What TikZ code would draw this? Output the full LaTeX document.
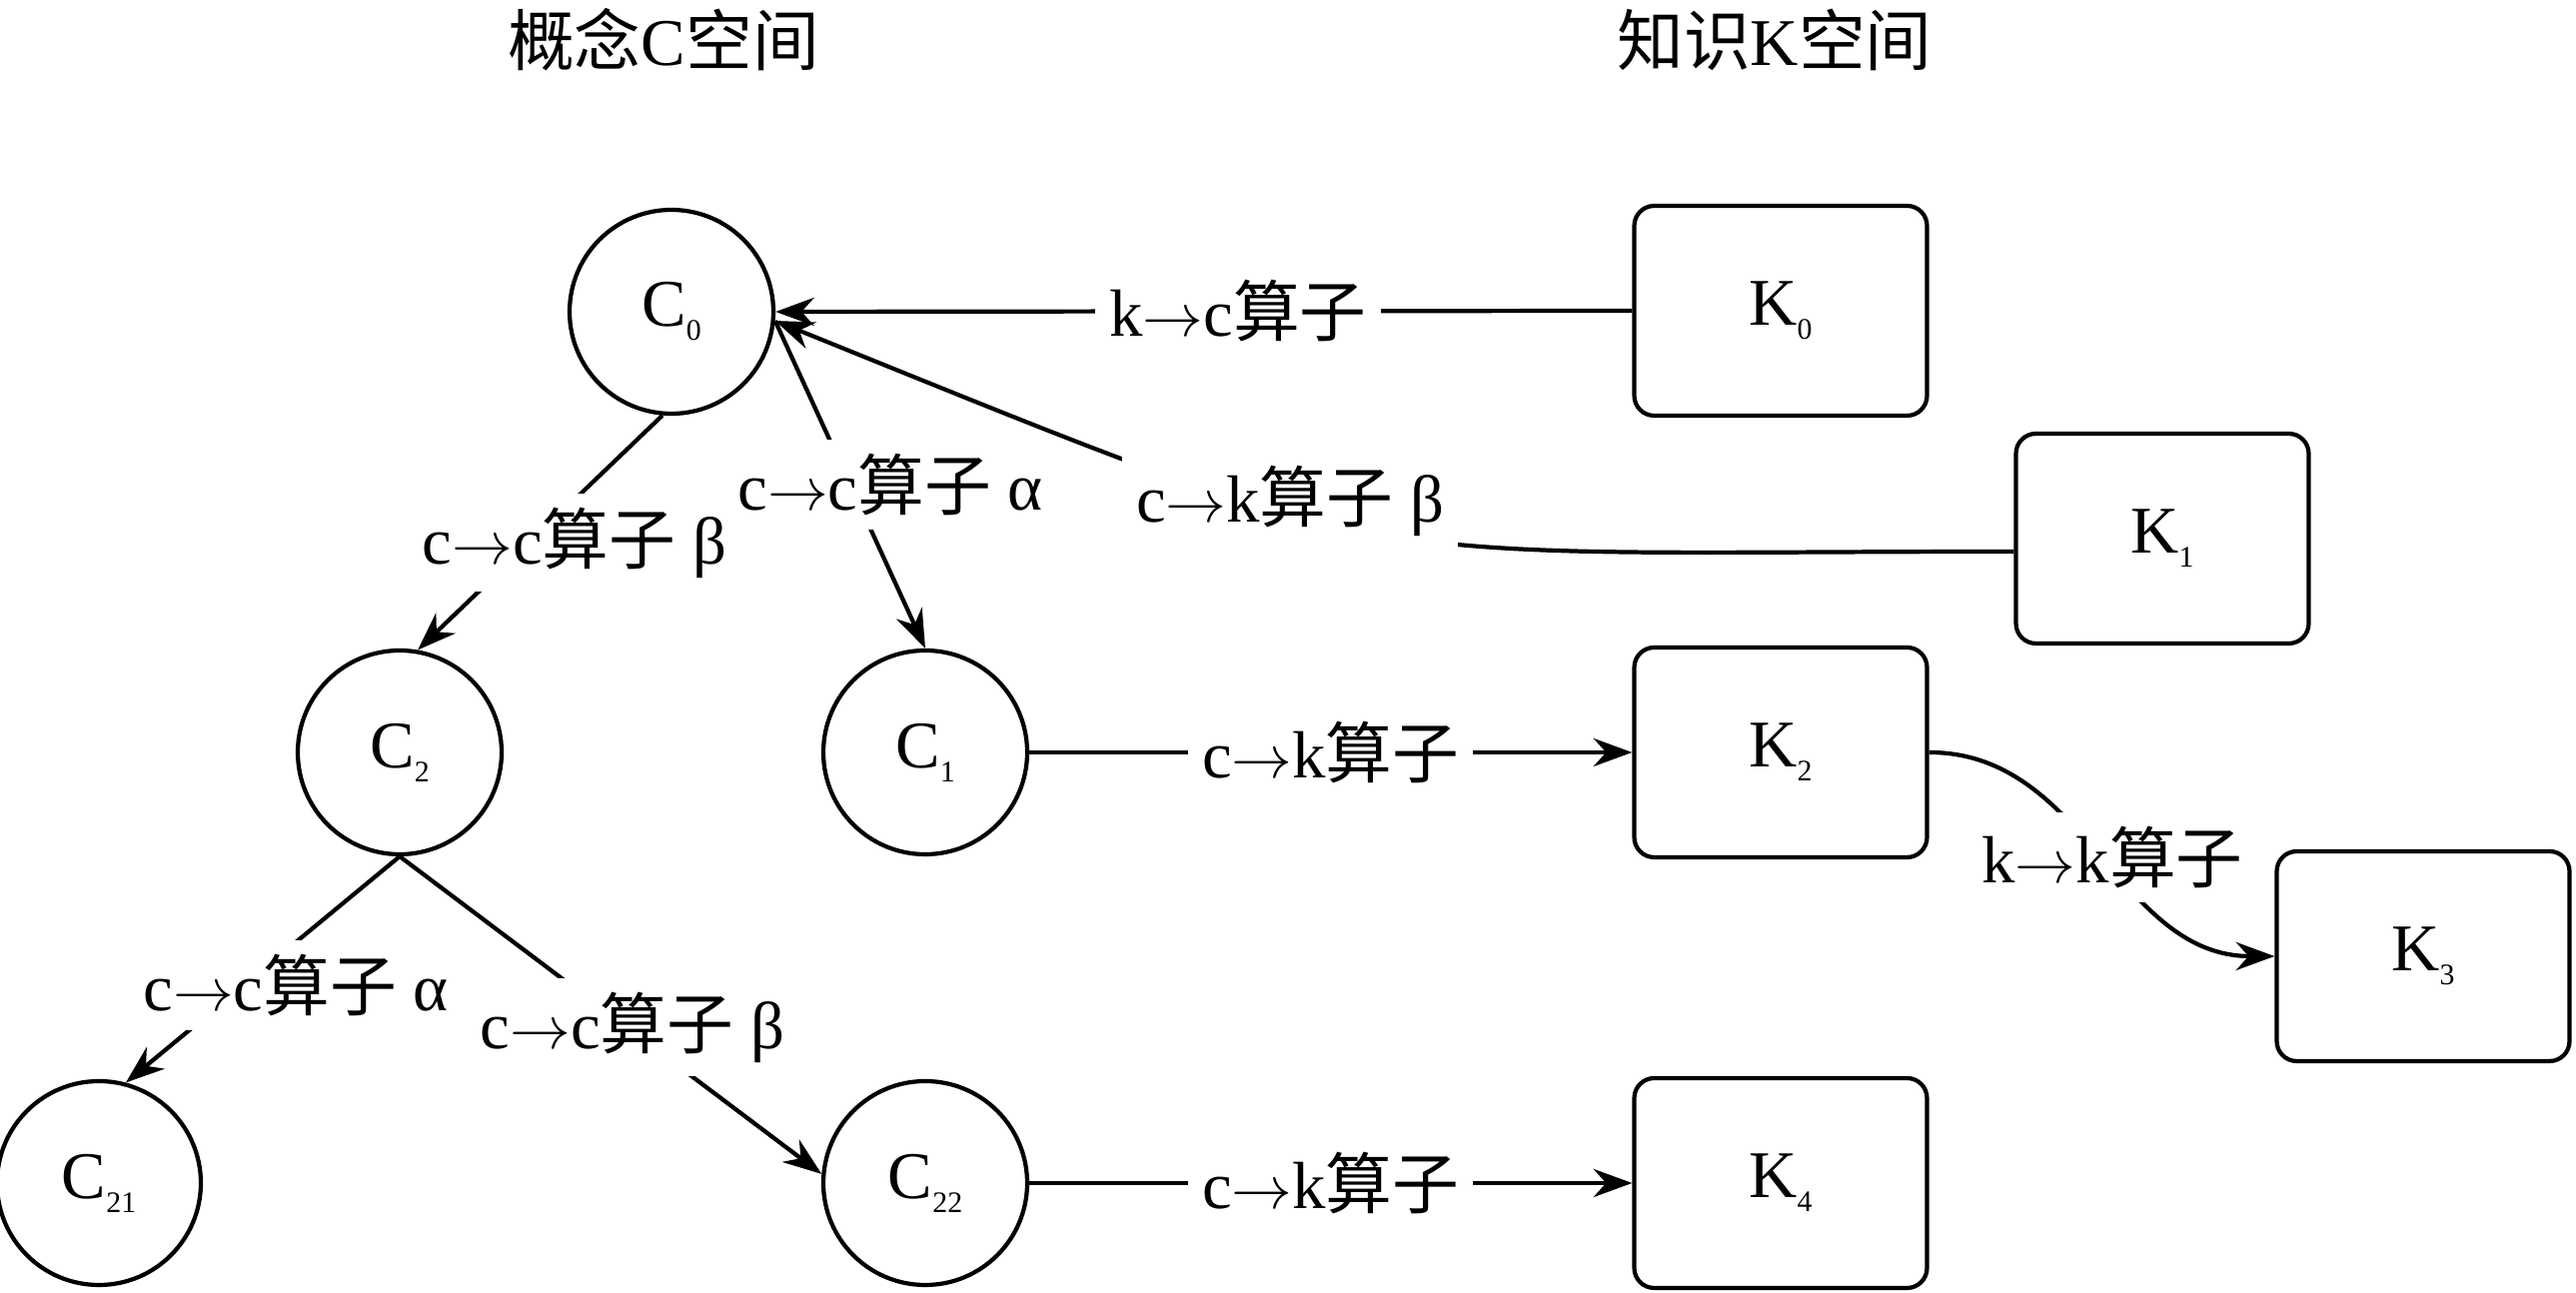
\documentclass[tikz,border=0pt]{standalone}
\usepackage{fontspec}
\setmainfont{Liberation Serif}
\newfontfamily\cjk{Noto Sans CJK SC}
\usetikzlibrary{arrows.meta}
\newcommand\sbs[1]{\raisebox{-4pt}{\fontsize{8.5pt}{9pt}\selectfont #1}}
\newcommand\suanzi{{\cjk 算子}}
\newcommand\ra{$\rightarrow$}

\begin{document}
\begin{tikzpicture}[line width=1.2pt,>={Stealth[length=11pt,width=8pt]},
		font=\fontsize{19pt}{22pt}\selectfont,
		cnode/.style={circle,draw,minimum size=2.04cm,inner sep=0pt},
		knode/.style={draw,rounded corners=0.2cm,minimum width=2.93cm,minimum height=2.1cm},
		lbl/.style={fill=white,inner sep=4pt}]
		\useasboundingbox (0,0) rectangle (25.78,12.94);
		% titles
		\node (tc) at (6.64,12.54) {{\cjk 概念}C{\cjk 空间}};
		\node (tk) at (17.76,12.54) {{\cjk 知识}K{\cjk 空间}};
		% concept space
		\node[cnode] (C0) at (6.72,9.82) {C\sbs{0}};
		\node[cnode] (C2) at (4.00,5.41) {C\sbs{2}};
		\node[cnode] (C1) at (9.26,5.41) {C\sbs{1}};
		\node[cnode] (C21) at (0.99,1.10) {C\sbs{21}};
		\node[cnode] (C22) at (9.26,1.10) {C\sbs{22}};
		% knowledge space
		\node[knode] (K0) at (17.82,9.83) {K\sbs{0}};
		\node[knode] (K1) at (21.64,7.55) {K\sbs{1}};
		\node[knode] (K2) at (17.82,5.41) {K\sbs{2}};
		\node[knode] (K3) at (24.25,3.37) {K\sbs{3}};
		\node[knode] (K4) at (17.82,1.10) {K\sbs{4}};
		% operators
		\draw[->](K0.west)--node[lbl,pos=0.46](lkc){k\ra c\suanzi}(C0.east);
		\draw[->](K1.185)to[out=180,in=-22,looseness=1.4](C0.-5);
		\draw[->](C0.-5)--(C1.north);
		\draw[->](C0.265)--(C2.80);
		\draw[->](C1.east)--node[lbl](lck1){c\ra k\suanzi}(K2.west);
		\draw[->](C22.east)--node[lbl](lck2){c\ra k\suanzi}(K4.west);
		\draw[->](K2.east)to[out=0,in=180](K3.west);
		\draw[->](C2.south)--(C21.75);
		\draw[->](C2.south)--(C22.175);
		\node[lbl] (lckb) at (12.91,7.93) {c\ra k\suanzi~β};
		\node[lbl] (lccb) at (5.75,7.51) {c\ra c\suanzi~β};
		\node[lbl] (lcca) at (8.91,8.09) {c\ra c\suanzi~α};
		\node[lbl] (lcca2) at (2.96,3.08) {c\ra c\suanzi~α};
		\node[lbl] (lccb2) at (6.33,2.66) {c\ra c\suanzi~β};
		\node[lbl] (lkk) at (21.14,4.36) {k\ra k\suanzi};
\end{tikzpicture}
\end{document}
